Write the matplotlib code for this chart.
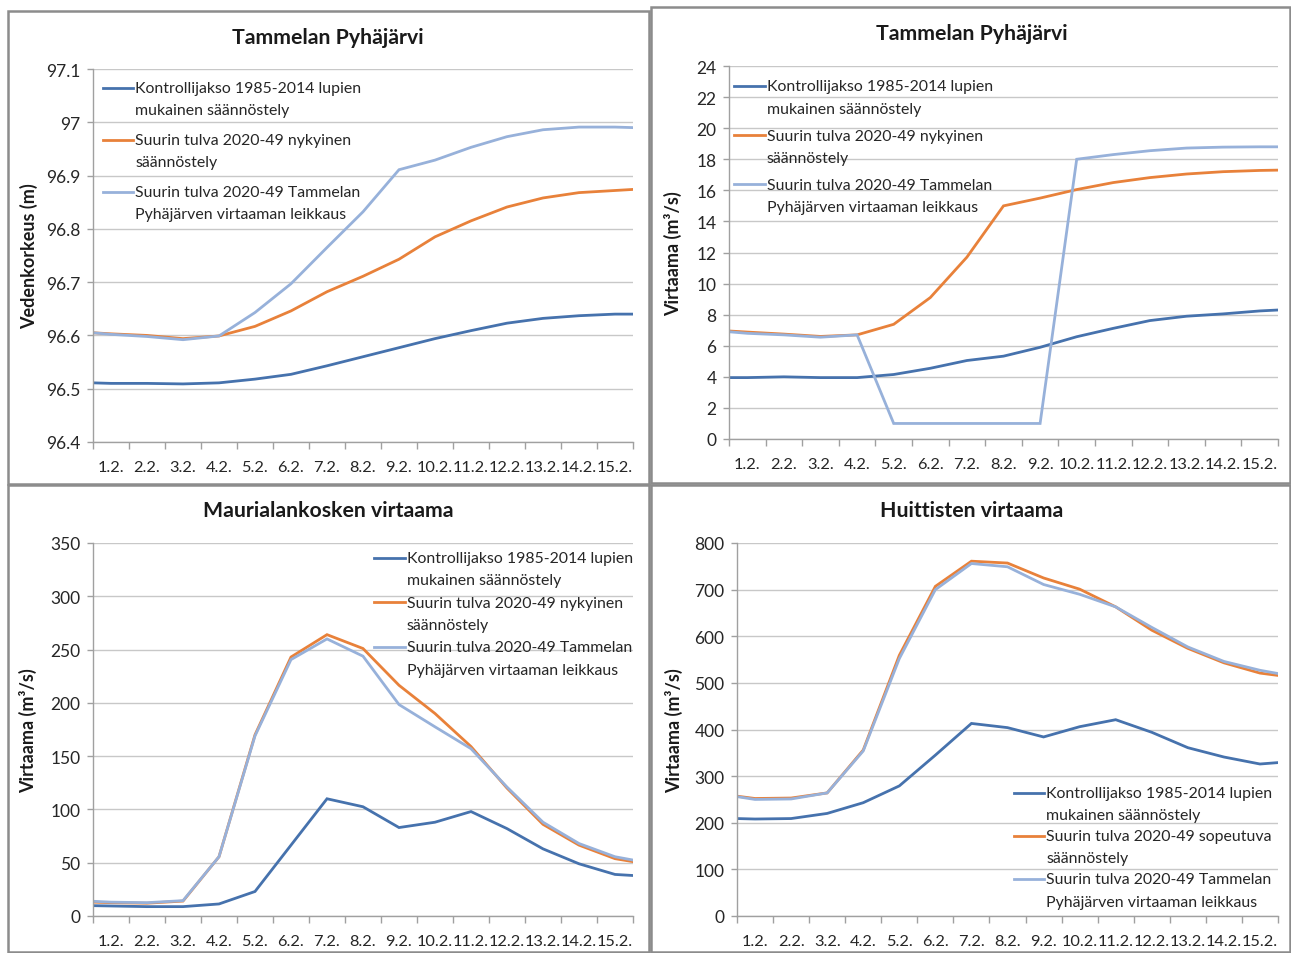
import numpy as np
import matplotlib
matplotlib.use("Agg")
import matplotlib.pyplot as plt
from matplotlib.patches import Rectangle

plt.rcParams['font.family'] = ['Lato', 'DejaVu Sans']

W, H = 1291, 954

days = ["1.2.", "2.2.", "3.2.", "4.2.", "5.2.", "6.2.", "7.2.", "8.2.", "9.2.", "10.2.",
        "11.2.", "12.2.", "13.2.", "14.2.", "15.2."]
# values read at left edge, at each day, and at right edge
pos = np.concatenate(([0.0], np.arange(len(days)) + 0.5, [float(len(days))]))

lbl_ctrl = "Kontrollijakso 1985-2014 lupien\nmukainen säännöstely"
lbl_now = "Suurin tulva 2020-49 nykyinen\nsäännöstely"
lbl_adapt = "Suurin tulva 2020-49 sopeutuva\nsäännöstely"
lbl_cut = "Suurin tulva 2020-49 Tammelan\nPyhäjärven virtaaman leikkaus"

# Tammelan Pyhäjärvi, water level (m)
lvl_ctrl = [96.511, 96.510, 96.510, 96.509, 96.511, 96.518, 96.527, 96.543, 96.560, 96.577,
            96.594, 96.609, 96.623, 96.632, 96.637, 96.640, 96.640]
lvl_now = [96.605, 96.603, 96.600, 96.594, 96.599, 96.617, 96.646, 96.682, 96.711, 96.743,
           96.785, 96.815, 96.841, 96.858, 96.868, 96.872, 96.874]
lvl_cut = [96.605, 96.602, 96.598, 96.592, 96.599, 96.643, 96.697, 96.765, 96.832, 96.911,
           96.929, 96.953, 96.973, 96.986, 96.991, 96.991, 96.990]

# Tammelan Pyhäjärvi, discharge (m3/s)
q_ctrl = [3.95, 3.95, 4.0, 3.95, 3.95, 4.15, 4.55, 5.05, 5.33, 5.9,
          6.58, 7.12, 7.62, 7.9, 8.05, 8.24, 8.3]
q_now = [6.95, 6.88, 6.75, 6.6, 6.7, 7.38, 9.1, 11.7, 15.0, 15.5,
         16.05, 16.5, 16.82, 17.05, 17.2, 17.28, 17.3]
q_cut = [6.9, 6.8, 6.7, 6.55, 6.7, 1.0, 1.0, 1.0, 1.0, 1.0,
         18.0, 18.3, 18.55, 18.72, 18.78, 18.8, 18.8]

# Maurialankoski discharge (m3/s)
m_ctrl = [9.7, 9.4, 8.8, 8.8, 11.3, 23, 66.5, 110, 102.5, 83,
          88, 98, 82, 63, 49, 39, 38]
m_now = [13, 12.5, 12, 14, 55.6, 170, 243, 264, 251, 216.5,
         190, 159, 120, 86, 66.5, 53.8, 51]
m_cut = [13.8, 13, 12.5, 14.4, 55.6, 169, 240.6, 260, 243.8, 198.4,
         177.5, 157, 121, 88, 68, 55.6, 52.5]

# Huittinen discharge (m3/s)
h_ctrl = [209, 208, 209, 220, 243, 279, 345, 413, 404, 384,
          406, 421, 394, 361, 341, 326, 329]
h_adapt = [257, 252, 253, 264, 356, 559, 707, 761, 757, 725,
           701, 663, 613, 574, 543, 521, 516]
h_cut = [256, 250, 251, 264, 354, 552, 700, 756, 749, 711,
         690, 663, 619, 577, 546, 527, 520]

c_ctrl = '#4672ad'
c_now = '#e8813a'
c_cut = '#97b1da'


def px_rect(x0, y0, x1, y1):
    return [x0 / W, 1 - y1 / H, (x1 - x0) / W, (y1 - y0) / H]


fig = plt.figure(figsize=(W / 100, H / 100), dpi=100)

# panel frames
for (x0, y0, x1, y1) in [(8, 12, 649, 485), (651, 8, 1290, 484), (8, 486, 649, 953), (651, 486, 1290, 953)]:
    fig.add_artist(Rectangle((x0 / W, 1 - y1 / H), (x1 - x0) / W, (y1 - y0) / H,
                             transform=fig.transFigure, fill=False, ec='#8c8c8c', lw=1.8))

panels = [
    dict(box=(93, 70, 633, 443), title="Tammelan Pyhäjärvi", tpos=(328, 38),
         ylabel="Vedenkorkeus (m)", labx=-0.102, ylim=(96.4, 97.1), ystep=0.1,
         series=[(lvl_ctrl, c_ctrl, lbl_ctrl), (lvl_now, c_now, lbl_now), (lvl_cut, c_cut, lbl_cut)],
         leg=dict(loc='upper left', anchor=(0.0185, 0.968), spacing=1.0)),
    dict(box=(729, 67, 1278, 440), title="Tammelan Pyhäjärvi", tpos=(972, 34),
         ylabel="Virtaama (m³/s)", labx=-0.086, ylim=(0, 24), ystep=2,
         series=[(q_ctrl, c_ctrl, lbl_ctrl), (q_now, c_now, lbl_now), (q_cut, c_cut, lbl_cut)],
         leg=dict(loc='upper left', anchor=(0.01, 0.964), spacing=0.81)),
    dict(box=(93, 544, 633, 917), title="Maurialankosken virtaama", tpos=(328, 511),
         ylabel="Virtaama (m³/s)", labx=-0.104, ylim=(0, 350), ystep=50,
         series=[(m_ctrl, c_ctrl, lbl_ctrl), (m_now, c_now, lbl_now), (m_cut, c_cut, lbl_cut)],
         leg=dict(loc='upper right', anchor=(1.0, 0.979), spacing=0.54)),
    dict(box=(737, 544, 1278, 917), title="Huittisten virtaama", tpos=(972, 511),
         ylabel="Virtaama (m³/s)", labx=-0.10, ylim=(0, 800), ystep=100,
         series=[(h_ctrl, c_ctrl, lbl_ctrl), (h_adapt, c_now, lbl_adapt), (h_cut, c_cut, lbl_cut)],
         leg=dict(loc='lower right', anchor=(0.99, 0.02), spacing=0.44)),
]

for p in panels:
    ax = fig.add_axes(px_rect(*p['box']))
    for vals, col, lab in p['series']:
        ax.plot(pos, vals, color=col, lw=2.0, label=lab, solid_joinstyle='miter')
    lo, hi = p['ylim']
    ax.set_ylim(lo, hi)
    ax.set_xlim(0, len(days))
    ax.set_yticks(np.arange(lo, hi + p['ystep'] / 2, p['ystep']))
    if p['ystep'] < 1:
        ax.set_yticklabels([f"{v:g}" for v in np.round(np.arange(lo, hi + 0.05, 0.1), 1)])
    ax.set_xticks(np.arange(len(days) + 1))
    ax.set_xticklabels([])
    ax.set_xticks(np.arange(len(days)) + 0.5, minor=True)
    ax.set_xticklabels(days, minor=True)
    ax.tick_params(axis='x', which='major', length=5, color='#a0a0a0', width=1)
    ax.tick_params(axis='x', which='minor', length=0, pad=13, labelsize=11.8, labelcolor='#262626')
    ax.tick_params(axis='y', length=4, color='#a0a0a0', width=1, pad=5, labelsize=12.5, labelcolor='#262626')
    ax.grid(axis='y', color='#c8c8c8', lw=1)
    ax.set_axisbelow(True)
    for s in ['top', 'right']:
        ax.spines[s].set_visible(False)
    for s in ['left', 'bottom']:
        ax.spines[s].set_color('#a0a0a0')
        ax.spines[s].set_linewidth(1)
    ax.set_ylabel(p['ylabel'], fontsize=13, fontweight='bold', color='#1a1a1a')
    ax.yaxis.set_label_coords(p['labx'], 0.5)
    fig.text(p['tpos'][0] / W, 1 - p['tpos'][1] / H, p['title'], ha='center', va='center',
             fontsize=15.3, fontweight='bold', color='#1a1a1a')
    lg = p['leg']
    leg = ax.legend(loc=lg['loc'], bbox_to_anchor=lg['anchor'], frameon=False, fontsize=11.4,
                    handlelength=1.9, handletextpad=0.15, borderpad=0, borderaxespad=0,
                    labelspacing=lg['spacing'], handleheight=1.2)
    for t in leg.get_texts():
        t.set_linespacing(1.75)
        t.set_color('#262626')
    for col in leg._legend_handle_box.get_children():
        for row in col.get_children():
            row.align = 'top'

fig.savefig("out.png", dpi=100)
plt.close(fig)
